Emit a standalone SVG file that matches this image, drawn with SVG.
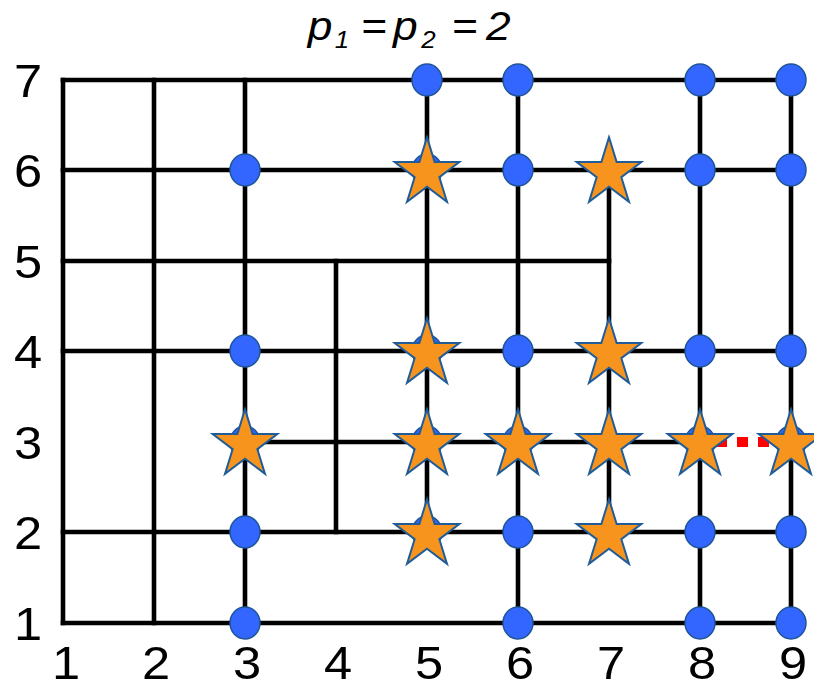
<svg xmlns="http://www.w3.org/2000/svg" xmlns:xlink="http://www.w3.org/1999/xlink" width="814" height="683" viewBox="0 0 814 683">
  <style>
    .grid { stroke: #000; stroke-width: 4.6; fill: none; stroke-linecap: square; }
    .red { stroke: #FF0000; stroke-width: 10; stroke-dasharray: 11 10; fill: none; }
    .dot { fill: #3366FF; stroke: #1F5597; stroke-width: 1.5; }
    .star { fill: #F7941D; stroke: #1F5C99; stroke-width: 2; stroke-linejoin: miter; }
    .lbl { font-family: "Liberation Sans", Arial, sans-serif; font-size: 46px; fill: #000; text-anchor: middle; }
    .title { font-family: "Liberation Sans", Arial, sans-serif; font-size: 41px; font-style: italic; fill: #000; }
    .sub { font-size: 24px; }
  </style>
  <defs>
    <ellipse id="dot" cx="0" cy="0" rx="15" ry="16" class="dot"/>
    <polygon id="star" class="star" points="0,-35.7 7.64,-11.05 32.34,-11.04 12.36,4.22 19.98,28.89 0,13.65 -19.98,28.89 -12.36,4.22 -32.34,-11.04 -7.64,-11.05"/>
  </defs>

  <g id="title">
    <text class="title" transform="scale(1.08,1)"><tspan x="285" y="40">p</tspan><tspan class="sub" x="310" y="48">1</tspan><tspan x="334" y="40">=</tspan><tspan x="364" y="40">p</tspan><tspan class="sub" x="390" y="48">2</tspan><tspan x="418" y="40">=</tspan><tspan x="450" y="40">2</tspan></text>
  </g>

  <g id="connectors">
    <!-- horizontal -->
    <line class="grid" x1="63" y1="80" x2="791" y2="80"/>
    <line class="grid" x1="63" y1="170" x2="791" y2="170"/>
    <line class="grid" x1="63" y1="261" x2="609" y2="261"/>
    <line class="grid" x1="63" y1="351" x2="791" y2="351"/>
    <line class="grid" x1="245" y1="442" x2="700" y2="442"/>
    <line class="grid" x1="63" y1="532" x2="791" y2="532"/>
    <line class="grid" x1="63" y1="623" x2="791" y2="623"/>
    <!-- vertical -->
    <line class="grid" x1="63" y1="80" x2="63" y2="623"/>
    <line class="grid" x1="154" y1="80" x2="154" y2="623"/>
    <line class="grid" x1="245" y1="80" x2="245" y2="623"/>
    <line class="grid" x1="336" y1="261" x2="336" y2="532"/>
    <line class="grid" x1="427" y1="80" x2="427" y2="532"/>
    <line class="grid" x1="518" y1="80" x2="518" y2="623"/>
    <line class="grid" x1="609" y1="170" x2="609" y2="532"/>
    <line class="grid" x1="700" y1="80" x2="700" y2="623"/>
    <line class="grid" x1="791" y1="80" x2="791" y2="623"/>
    <!-- red dotted -->
    <line class="red" x1="695" y1="442" x2="791" y2="442"/>
  </g>

  <g id="dots">
    <use xlink:href="#dot" x="427" y="80"/>
    <use xlink:href="#dot" x="518" y="80"/>
    <use xlink:href="#dot" x="700" y="80"/>
    <use xlink:href="#dot" x="791" y="80"/>
    <use xlink:href="#dot" x="245" y="170"/>
    <use xlink:href="#dot" x="427" y="170"/>
    <use xlink:href="#dot" x="518" y="170"/>
    <use xlink:href="#dot" x="700" y="170"/>
    <use xlink:href="#dot" x="791" y="170"/>
    <use xlink:href="#dot" x="245" y="351"/>
    <use xlink:href="#dot" x="427" y="351"/>
    <use xlink:href="#dot" x="518" y="351"/>
    <use xlink:href="#dot" x="700" y="351"/>
    <use xlink:href="#dot" x="791" y="351"/>
    <use xlink:href="#dot" x="245" y="442"/>
    <use xlink:href="#dot" x="427" y="442"/>
    <use xlink:href="#dot" x="518" y="442"/>
    <use xlink:href="#dot" x="700" y="442"/>
    <use xlink:href="#dot" x="791" y="442"/>
    <use xlink:href="#dot" x="245" y="532"/>
    <use xlink:href="#dot" x="427" y="532"/>
    <use xlink:href="#dot" x="518" y="532"/>
    <use xlink:href="#dot" x="700" y="532"/>
    <use xlink:href="#dot" x="791" y="532"/>
    <use xlink:href="#dot" x="245" y="623"/>
    <use xlink:href="#dot" x="518" y="623"/>
    <use xlink:href="#dot" x="700" y="623"/>
    <use xlink:href="#dot" x="791" y="623"/>
  </g>

  <g id="stars">
    <use xlink:href="#star" x="427" y="173"/>
    <use xlink:href="#star" x="609" y="173"/>
    <use xlink:href="#star" x="427" y="354"/>
    <use xlink:href="#star" x="609" y="354"/>
    <use xlink:href="#star" x="245" y="445"/>
    <use xlink:href="#star" x="427" y="445"/>
    <use xlink:href="#star" x="518" y="445"/>
    <use xlink:href="#star" x="609" y="445"/>
    <use xlink:href="#star" x="700" y="445"/>
    <use xlink:href="#star" x="791" y="445"/>
    <use xlink:href="#star" x="427" y="535"/>
    <use xlink:href="#star" x="609" y="535"/>
  </g>

  <g id="y-labels">
    <text class="lbl" transform="translate(28,97) scale(1.1,1)">7</text>
    <text class="lbl" transform="translate(28,187) scale(1.1,1)">6</text>
    <text class="lbl" transform="translate(28,278) scale(1.1,1)">5</text>
    <text class="lbl" transform="translate(28,368) scale(1.1,1)">4</text>
    <text class="lbl" transform="translate(28,459) scale(1.1,1)">3</text>
    <text class="lbl" transform="translate(28,549) scale(1.1,1)">2</text>
    <text class="lbl" transform="translate(28,640) scale(1.1,1)">1</text>
  </g>

  <g id="x-labels">
    <text class="lbl" transform="translate(66,679) scale(1.1,1)">1</text>
    <text class="lbl" transform="translate(156,679) scale(1.1,1)">2</text>
    <text class="lbl" transform="translate(247,679) scale(1.1,1)">3</text>
    <text class="lbl" transform="translate(338,679) scale(1.1,1)">4</text>
    <text class="lbl" transform="translate(429,679) scale(1.1,1)">5</text>
    <text class="lbl" transform="translate(520,679) scale(1.1,1)">6</text>
    <text class="lbl" transform="translate(611,679) scale(1.1,1)">7</text>
    <text class="lbl" transform="translate(702,679) scale(1.1,1)">8</text>
    <text class="lbl" transform="translate(793,679) scale(1.1,1)">9</text>
  </g>
</svg>
